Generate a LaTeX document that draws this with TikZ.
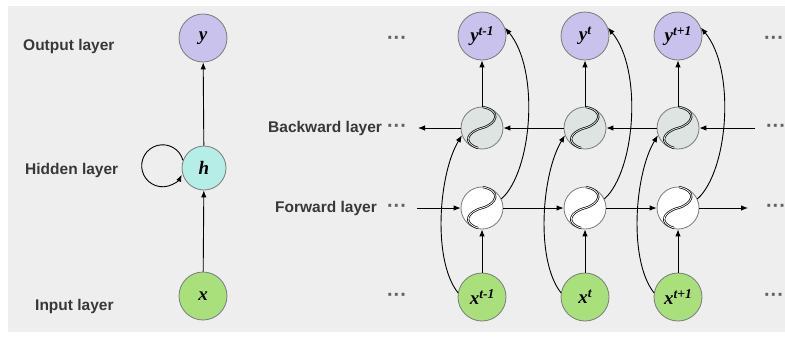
\documentclass[tikz,border=0pt]{standalone}
\usepackage{fontspec}
\setmainfont{Liberation Serif}
\newfontfamily\labelfont{Liberation Sans}
\usetikzlibrary{arrows.meta}

\definecolor{bg}{HTML}{EEEEEE}
\definecolor{outc}{HTML}{C9C2EC}
\definecolor{hidc}{HTML}{B5EEE6}
\definecolor{inc}{HTML}{A9E07C}
\definecolor{bwdc}{HTML}{DEE4E1}
\definecolor{ringc}{HTML}{7A7A7A}
\definecolor{txtc}{HTML}{383838}

% bold italic variable with an optional superscript
\newcommand\var[2]{{\bfseries\itshape\fontsize{19}{19}\selectfont #1\raisebox{6pt}{\fontsize{13.5}{13.5}\selectfont #2}}}
\newcommand\contdots{\labelfont\bfseries ···}

\begin{document}
\begin{tikzpicture}[x=1pt,y=-1pt,
  unit/.style={circle, draw=ringc, line width=0.8pt, inner sep=0pt},
  outnode/.style={unit, fill=outc, minimum size=48pt},
  hidnode/.style={unit, fill=hidc, minimum size=44pt},
  innode/.style={unit, fill=inc, minimum size=48pt},
  bwdnode/.style={unit, fill=bwdc, minimum size=42pt},
  fwdnode/.style={unit, fill=white, minimum size=42pt},
  layertext/.style={font=\labelfont\bfseries\fontsize{15.5}{16}\selectfont, text=txtc, anchor=west, inner sep=0pt},
  dotstext/.style={font=\fontsize{20}{20}\selectfont, text=txtc!80, inner sep=0pt},
  conn/.style={line width=0.9pt, -{Latex[length=7pt,width=5.5pt]}},
  sigline/.style={line width=0.7pt, double distance=0.8pt}
]
\useasboundingbox (0,0) rectangle (785,354);
\fill[bg] (8,6) rectangle (785,332);

% ---- folded recurrent network ----
\node[outnode] (yL) at (203,38) {\var{y}{}};
\node[hidnode] (hL) at (204,168) {\var{h}{}};
\node[innode] (xL) at (203,296) {\var{x}{}};
\draw[conn] (xL) -- (hL);
\draw[conn] (hL) -- (yL);
\draw[conn] (hL.160) arc[start angle=-15, end angle=-335, radius=21];

\node[layertext] (tOut) at (23,46) {Output layer};
\node[layertext] (tHid) at (25,170) {Hidden layer};
\node[layertext] (tIn) at (35,306) {Input layer};

% ---- unfolded bidirectional network ----
\foreach \i/\cx/\s in {1/482/t-1, 2/585/t, 3/678/t+1}{
  \node[outnode] (y\i) at (\cx,36) {\var{y}{\s}};
  \node[bwdnode] (b\i) at (\cx,128) {};
  \node[fwdnode] (f\i) at (\cx,208) {};
  \node[innode] (x\i) at (\cx,297) {\var{x}{\s}};
}
% sigmoid marks inside the hidden units
\foreach \i in {1,2,3}{
  \draw[sigline, double=bwdc, shift={(b\i)}]
    (1,-21) .. controls (20,-17) and (15,-4) .. (0,0)
            .. controls (-15,4) and (-20,15) .. (-4,20);
  \draw[sigline, double=white, shift={(f\i)}]
    (1,-21) .. controls (20,-17) and (15,-4) .. (0,0)
            .. controls (-15,4) and (-20,15) .. (-4,20);
}

\node[layertext] (tBwd) at (268,128) {Backward layer};
\node[layertext] (tFwd) at (275,208) {Forward layer};

\coordinate (bR) at (755,128);
\coordinate (bLft) at (418,128);
\coordinate (fLft) at (417,208);
\coordinate (fR) at (748,208);

\draw[conn] (bR) -- (b3);
\draw[conn] (b3) -- (b2);
\draw[conn] (b2) -- (b1);
\draw[conn] (b1) -- (bLft);
\draw[conn] (fLft) -- (f1);
\draw[conn] (f1) -- (f2);
\draw[conn] (f2) -- (f3);
\draw[conn] (f3) -- (fR);

\foreach \i in {1,2,3}{
  \draw[conn] (x\i) -- (f\i);
  \draw[conn] (b\i) -- (y\i);
  \draw[conn] (x\i.170) .. controls +(-26,-33) and +(-23,38) .. (b\i.200);
  \draw[conn] (f\i.25) .. controls +(31,-28) and +(35,42) .. (y\i.20);
}

% continuation marks
\node[dotstext] (d1) at (397,40) {\contdots};
\node[dotstext] (d2) at (397,128) {\contdots};
\node[dotstext] (d3) at (397,208) {\contdots};
\node[dotstext] (d4) at (397,297) {\contdots};
\node[dotstext] (d5) at (774,40) {\contdots};
\node[dotstext] (d6) at (776,128) {\contdots};
\node[dotstext] (d7) at (776,208) {\contdots};
\node[dotstext] (d8) at (774,297) {\contdots};
\end{tikzpicture}
\end{document}
